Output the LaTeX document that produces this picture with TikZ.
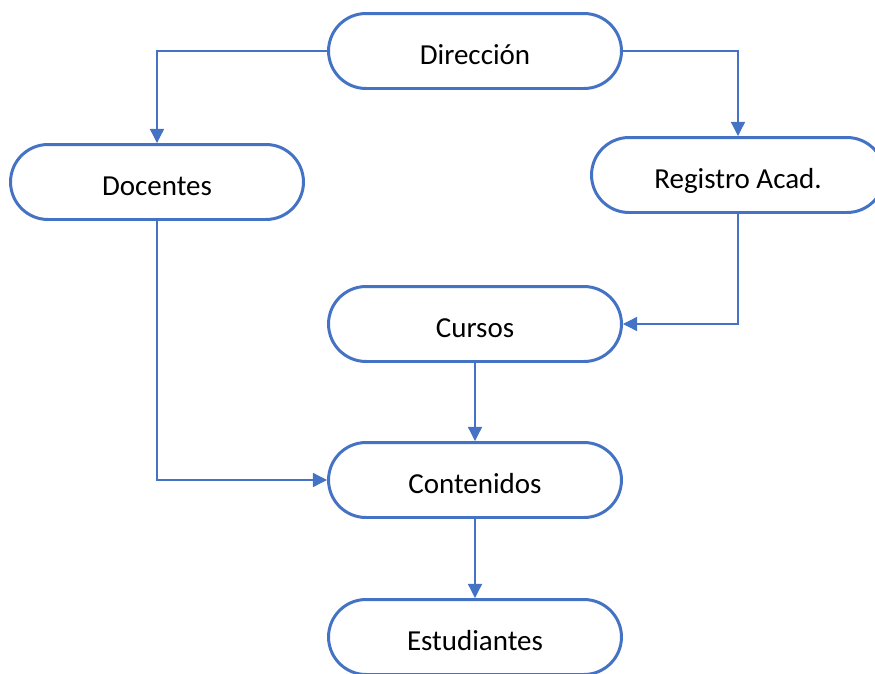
\documentclass[tikz,border=0pt]{standalone}
\usepackage{fontspec}
\setmainfont{Carlito}
\usepackage{tikz}
\usetikzlibrary{arrows.meta}
\definecolor{azul}{HTML}{4472C4}

\tikzset{
  caja/.style={draw=azul, line width=1.7pt, fill=white, rounded corners=0.75cm,
    minimum width=5.86cm, minimum height=1.5cm, inner sep=0pt,
    text height=0.62cm, text depth=0.08cm,
    font=\fontsize{16.5}{20}\selectfont},
  flecha/.style={azul, line width=0.7pt, -{Triangle[width=8pt,length=8pt]}}
}

\begin{document}
\begin{tikzpicture}[x=0.02cm,y=-0.02cm]
\useasboundingbox (0,0) rectangle (875,673);
\clip (0,0) rectangle (875,673);
\node[caja] (dir) at (475,51) {Dirección};
\node[caja] (doc) at (157,182) {Docentes};
\node[caja] (reg) at (738,175) {Registro Acad.};
\node[caja] (cur) at (475,324) {Cursos};
\node[caja] (con) at (475,480) {Contenidos};
\node[caja] (est) at (475,637) {Estudiantes};
\draw[flecha] (dir.west) -| (doc.north);
\draw[flecha] (dir.east) -| (reg.north);
\draw[flecha] (reg.south) |- (cur.east);
\draw[flecha] (doc.south) |- (con.west);
\draw[flecha] (cur.south) -- (con.north);
\draw[flecha] (con.south) -- (est.north);
\end{tikzpicture}
\end{document}
